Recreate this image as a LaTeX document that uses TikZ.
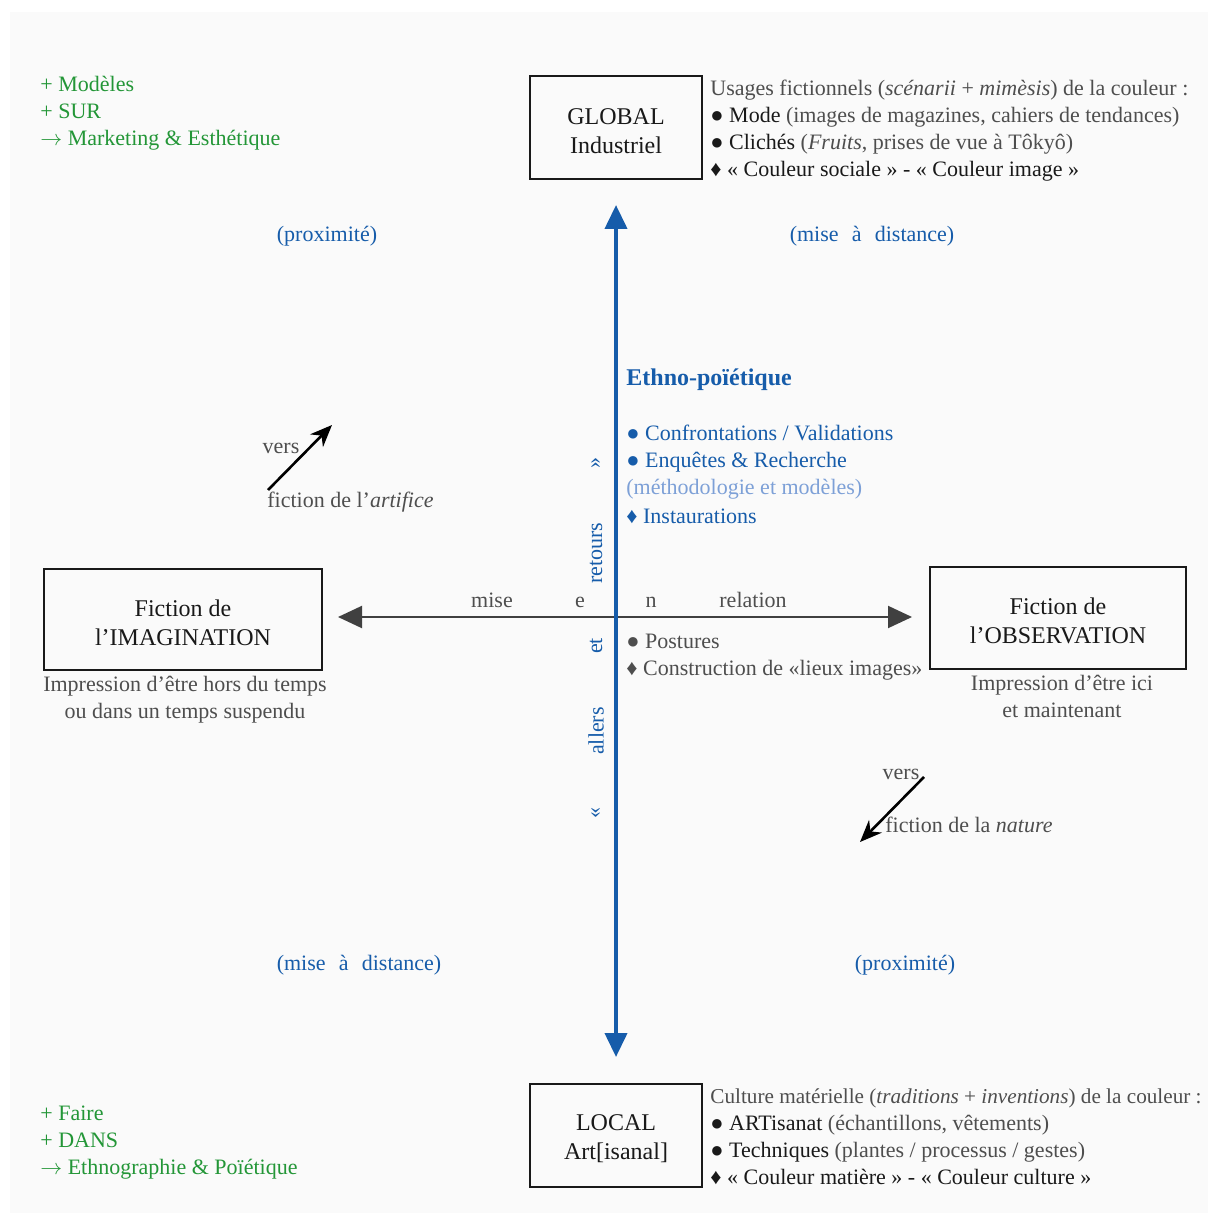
\documentclass[tikz,border=0pt]{standalone}
\usepackage{fontspec}
\setmainfont{Liberation Serif}
\usetikzlibrary{arrows.meta}

\definecolor{inkdark}{RGB}{25,25,25}
\definecolor{inkgray}{RGB}{78,78,78}
\definecolor{axisblue}{RGB}{22,92,170}
\definecolor{paleblue}{RGB}{125,160,215}
\definecolor{notegreen}{RGB}{35,150,55}
\definecolor{axisgray}{RGB}{64,64,64}
\definecolor{sheet}{RGB}{250,250,250}

\newcommand{\diagbody}{\fontsize{11}{13.5}\selectfont}
\newcommand{\diagbox}{\fontsize{12}{14.5}\selectfont}
\newcommand{\wsp}{\hspace{0.6em}}
\newcommand{\topstrut}{\rule{0pt}{11.5pt}}

\tikzset{
  pole/.style={draw=inkdark, line width=0.8pt, align=center, text=inkdark,
    font=\diagbox, inner sep=0pt},
  line/.style={anchor=base west, inner sep=0pt, text=inkgray, font=\diagbody},
  cline/.style={anchor=base, inner sep=0pt, text=inkgray, font=\diagbody},
  green/.style={line, text=notegreen},
  blueline/.style={line, text=axisblue},
  quad/.style={cline, text=axisblue},
  turn/.style={inner sep=0pt, rotate=90, text=axisblue, font=\diagbody},
  vers/.style={-{Stealth[length=11pt,width=9pt]}, line width=1.3pt, black}
}

\begin{document}
\begin{tikzpicture}[x=0.5pt, y=-0.5pt]
  \useasboundingbox (0,0) rectangle (1208,1213);
  \fill[sheet] (10,12) rectangle (1208,1213);
  % ============= poles =============
  \node[pole, minimum width=86pt, minimum height=51.5pt] (global) at (616,127.5)
    {\topstrut GLOBAL\\Industriel};
  \node[pole, minimum width=86pt, minimum height=51.5pt] (local) at (616,1135.5)
    {\topstrut LOCAL\\Art[isanal]};
  \node[pole, minimum width=139pt, minimum height=50.5pt] (imag) at (183,619.5)
    {\topstrut Fiction de\\l’IMAGINATION};
  \node[pole, minimum width=128pt, minimum height=51pt] (obs) at (1058,618)
    {\topstrut Fiction de\\l’OBSERVATION};
  % ============= axes =============
  \coordinate (west) at (338,617);
  \coordinate (east) at (912,617);
  \coordinate (north) at (616,205);
  \coordinate (south) at (616,1057);
  \draw[{Triangle[length=12pt,width=11pt]}-{Triangle[length=12pt,width=11pt]},
    line width=1pt, axisgray] (west) -- (east);
  \draw[{Triangle[length=12pt,width=11pt]}-{Triangle[length=12pt,width=11pt]},
    line width=2pt, axisblue] (south) -- (north);
  % mise en relation (spread along the horizontal axis)
  \node[cline] (mise) at (492,607) {mise};
  \node[cline] (e) at (580,607) {e};
  \node[cline] (n) at (651,607) {n};
  \node[cline] (relation) at (753,607) {relation};
  % allers et retours (along the vertical axis)
  \node[turn] (gin) at (596,813) {«};
  \node[turn] (allers) at (596,731) {allers};
  \node[turn] (et) at (596,646) {et};
  \node[turn] (retours) at (596,553) {retours};
  \node[turn] (gout) at (596,463) {»};
  % ============= global side =============
  \node[line] (usages) at (710,96)
    {Usages fictionnels (\textit{scénarii} + \textit{mimèsis}) de la couleur :};
  \node[line] (mode) at (710,123)
    {\textcolor{inkdark}{● Mode} (images de magazines, cahiers de tendances)};
  \node[line] (cliches) at (710,150)
    {\textcolor{inkdark}{● Clichés} (\textit{Fruits}, prises de vue à Tôkyô)};
  \node[line, text=inkdark] (sociale) at (710,177)
    {♦ « Couleur sociale » - « Couleur image »};
  \node[green] (modeles) at (40,92) {+ Modèles};
  \node[green] (sur) at (40,119) {+ SUR};
  \node[green] (marketing) at (40,146) {$\rightarrow$ Marketing \& Esthétique};
  % ============= local side =============
  \node[line, font=\fontsize{10.6}{13.5}\selectfont] (culture) at (710,1103)
    {Culture matérielle (\textit{traditions} + \textit{inventions}) de la couleur :};
  \node[line] (artisanat) at (710,1130)
    {\textcolor{inkdark}{● ARTisanat} (échantillons, vêtements)};
  \node[line] (techniques) at (710,1157)
    {\textcolor{inkdark}{● Techniques} (plantes / processus / gestes)};
  \node[line, text=inkdark] (matiere) at (710,1184)
    {♦ « Couleur matière » - « Couleur culture »};
  \node[green] (faire) at (40,1120) {+ Faire};
  \node[green] (dans) at (40,1147) {+ DANS};
  \node[green] (ethnographie) at (40,1174) {$\rightarrow$ Ethnographie \& Poïétique};
  % ============= quadrants =============
  \node[quad] (proxtop) at (327,242) {(proximité)};
  \node[quad] (disttop) at (872,242) {(mise\wsp à\wsp distance)};
  \node[quad] (distbot) at (359,970) {(mise\wsp à\wsp distance)};
  \node[quad] (proxbot) at (905,970) {(proximité)};
  % ============= centre =============
  \node[blueline, font=\fontsize{12}{14}\selectfont\bfseries] (ethno) at (626,386)
    {Ethno-poïétique};
  \node[blueline] (confront) at (626,440) {● Confrontations / Validations};
  \node[blueline] (enquetes) at (626,467) {● Enquêtes \& Recherche};
  \node[blueline, text=paleblue] (methodo) at (626,494) {(méthodologie et modèles)};
  \node[blueline] (instaur) at (626,523) {♦ Instaurations};
  \node[line] (postures) at (626,648) {● Postures};
  \node[line] (lieux) at (626,675) {♦ Construction de «lieux images»};
  % ============= under the fictions =============
  \node[cline] (horsa) at (185,691) {Impression d’être hors du temps};
  \node[cline] (horsb) at (185,718) {ou dans un temps suspendu};
  \node[cline] (icia) at (1062,690) {Impression d’être ici};
  \node[cline] (icib) at (1062,717) {et maintenant};
  % ============= vers ... =============
  \node[cline] (versa) at (281,453) {vers};
  \node[line] (artifice) at (267,507) {fiction de l’\textit{artifice}};
  \coordinate (arta) at (268,490);
  \coordinate (artb) at (332,425);
  \draw[vers] (arta) -- (artb);
  \node[cline] (versb) at (901,779) {vers};
  \node[line] (nature) at (885,832) {fiction de la \textit{nature}};
  \coordinate (nata) at (924,777);
  \coordinate (natb) at (860,842);
  \draw[vers] (nata) -- (natb);
\end{tikzpicture}
\end{document}
